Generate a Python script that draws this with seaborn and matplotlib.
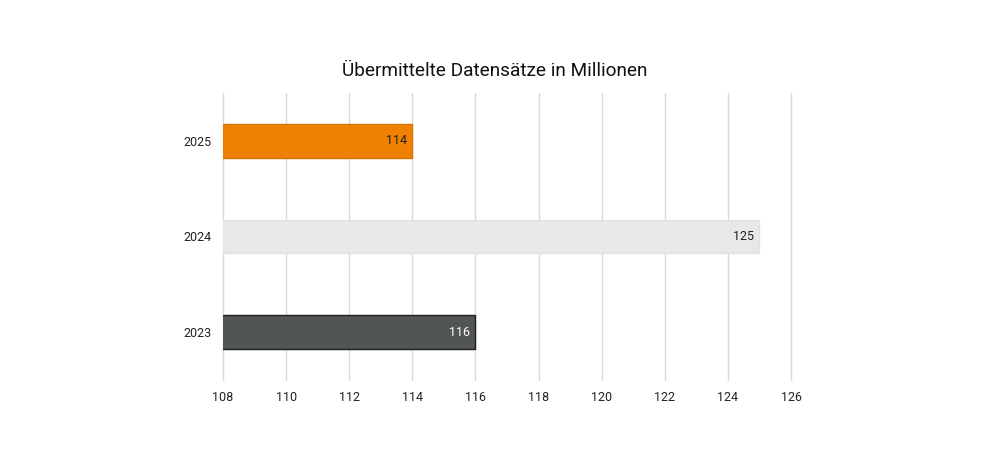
import matplotlib
matplotlib.use("Agg")
import matplotlib.pyplot as plt
import seaborn as sns
from pandas import DataFrame

years = ["2025", "2024", "2023"]
values = [114, 125, 116]
bar_colors = ["#F08100", "#E8E8EA", "#515556"]
edge_colors = ["#D87400", "#E2E2E4", "#1E1E1E"]
label_colors = ["#222222", "#222222", "#FFFFFF"]
x_ticks = list(range(108, 127, 2))

data_plot = DataFrame({"year": years, "value": values})

sns.set_style("white")
plt.rcParams["font.family"] = ["Roboto", "DejaVu Sans"]

fig = plt.figure(figsize=(9.9, 4.61), dpi=100)
ax = fig.add_axes([0.2253, 0.1757, 0.5737, 0.6226])

splot = sns.barplot(x="value", y="year", data=data_plot, hue="year",
                    palette=bar_colors, legend=False, width=0.35,
                    saturation=1, ax=ax, zorder=3)
for p, ec in zip(splot.patches, edge_colors):
    p.set_edgecolor(ec)
    p.set_linewidth(1)

ax.set_xlim(108, 126)
ax.set_ylim(2.5, -0.5)
ax.set_xticks(x_ticks)
ax.set_xticklabels([str(t) for t in x_ticks], fontsize=9, color="#222222")
ax.tick_params(axis="y", labelsize=9, labelcolor="#222222", length=0, pad=8)
ax.tick_params(axis="x", length=0, pad=8)
ax.set_xlabel("")
ax.set_ylabel("")
ax.grid(axis="x", color="#D9D9D9", linewidth=1, zorder=0)
ax.grid(axis="y", visible=False)
for gl in ax.get_xgridlines():
    gl.set_clip_on(False)
for s in ax.spines.values():
    s.set_visible(False)

for i, (v, col) in enumerate(zip(values, label_colors)):
    ax.text(v - 0.18, i, str(v), ha="right", va="center",
            color=col, fontsize=9, zorder=4)

fig.suptitle("Übermittelte Datensätze in Millionen", fontsize=13.7,
             color="#111111", y=0.865)

fig.savefig("out.png", dpi=100)
